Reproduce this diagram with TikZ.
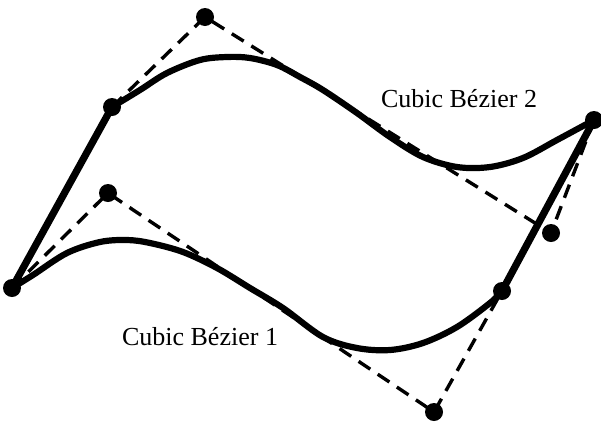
\documentclass[tikz,border=0pt]{standalone}
\usepackage{fontspec}
\setmainfont{Liberation Serif}
\usetikzlibrary{positioning}

\begin{document}
\begin{tikzpicture}[x=1pt, y=-1pt,
        every node/.style={font=\fontsize{26}{28}\selectfont},
        curve/.style={line width=6.2pt, line join=round},
        hull/.style={line width=3.4pt, dash pattern=on 14pt off 9pt},
        link/.style={line width=7.2pt},
        dot/.style={circle, fill, inner sep=0pt, minimum size=18pt}]
      \useasboundingbox (0,0) rectangle (601,429);
      % control points
      \coordinate (a0) at (12,288);
      \coordinate (a1) at (108,193);
      \coordinate (a2) at (434,412);
      \coordinate (a3) at (502,291);
      \coordinate (b0) at (112,107);
      \coordinate (b1) at (205,17);
      \coordinate (b2) at (551,233);
      \coordinate (b3) at (594,120);
      % control polygons
      \draw[hull] (a0) -- (a1) -- (a2) -- (a3);
      \draw[hull] (b0) -- (b1) -- (b2) -- (b3);
      % curves
      \draw[curve] plot[smooth, tension=0.55] coordinates {(12,288) (33,275)
        (67,253) (100,242) (127,240) (150,243) (183,252) (217,268) (250,288)
        (283,308) (323,337) (357,348) (390,350) (423,343) (457,327) (490,303)
        (502,291)};
      \draw[curve] plot[smooth, tension=0.55] coordinates {(112,107) (140,90)
        (167,73) (200,60) (227,57) (250,58) (277,65) (300,77) (323,90)
        (357,113) (390,137) (423,157) (457,167) (490,167) (523,158)
        (557,140) (594,120)};
      \draw[link] (a0) -- (b0);
      \draw[link] (a3) -- (b3);
      \foreach \p in {a0,a1,a2,a3,b0,b1,b2,b3}
        \node[dot] at (\p) {};
      \node (lab1) at (200,337) {Cubic Bézier 1};
      \node (lab2) at (459,99) {Cubic Bézier 2};
    \end{tikzpicture}
\end{document}
